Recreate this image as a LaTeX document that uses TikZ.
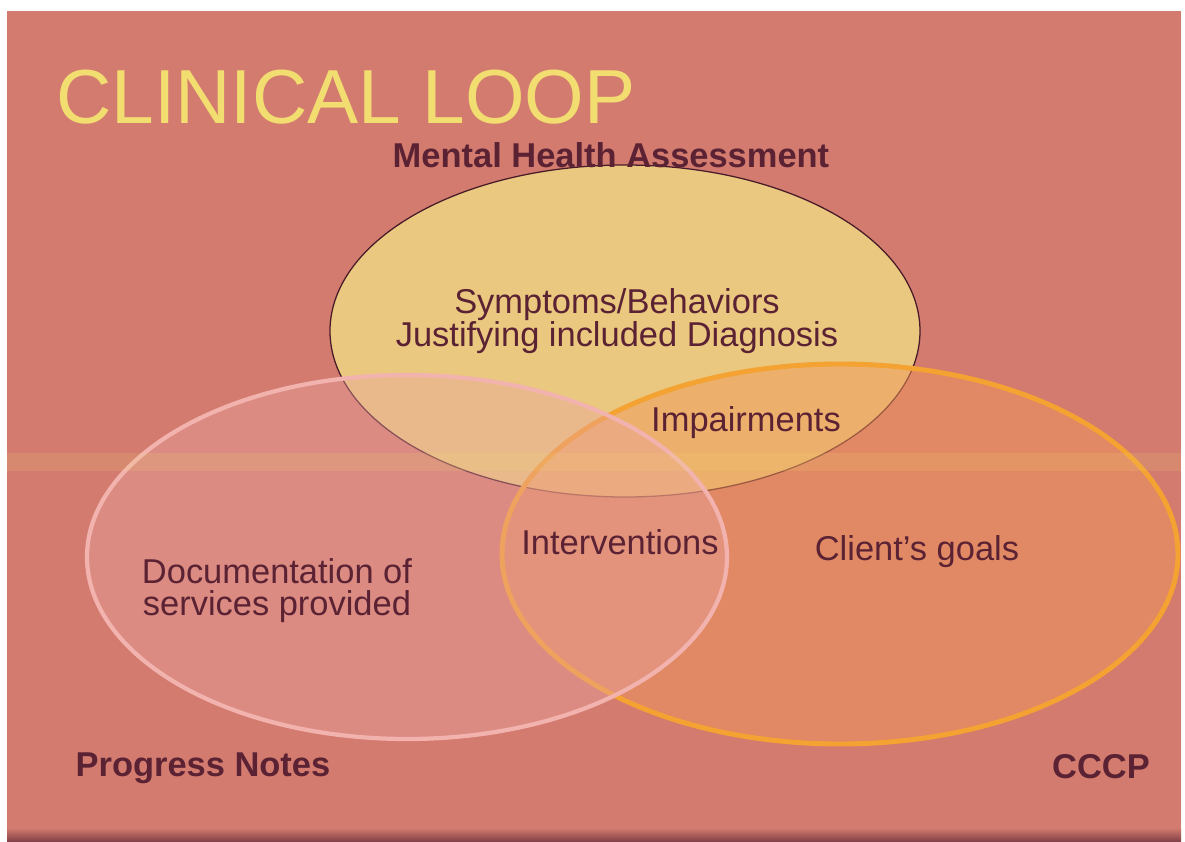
\documentclass[tikz,border=0pt]{standalone}
\usepackage{fontspec}
\setmainfont{Liberation Sans}
\usepackage{tikz}
\usepackage{xcolor}
\usetikzlibrary{positioning,shapes.geometric}
\definecolor{Salmon}{HTML}{D37B6F}
\definecolor{Maroon}{HTML}{5A2233}
\definecolor{Straw}{HTML}{F2DD70}
\definecolor{Wheat}{HTML}{EAC87F}
\definecolor{Blush}{HTML}{F2B3AE}
\definecolor{BlushFill}{HTML}{E8A3A0}
\definecolor{Tangerine}{HTML}{F4A232}
\definecolor{TangerineFill}{HTML}{F0985A}
\tikzset{
    every node/.style={font=\fontsize{24.5}{24}\selectfont, text=Maroon, inner sep=0pt},
    loopcircle/.style={line width=#1},
    looplabel/.style={align=center},
    cornerlabel/.style={font=\fontsize{24.5}{24}\selectfont\bfseries, text=Maroon},
}

\begin{document}
\begin{tikzpicture}[x=0.025cm, y=-0.025cm]
    \useasboundingbox (0,0) rectangle (1185,842);

    % Background
    \fill[white] (0,0) rectangle (1185,842);
    \fill[Salmon] (7,11) rectangle (1181,842);
    \shade[top color=Salmon, bottom color=Maroon!70!Salmon] (7,828) rectangle (1181,842);

    % Circles
    \draw[loopcircle=0.9pt, draw=Maroon!80!black, fill=Wheat] (625,331) ellipse [x radius=295, y radius=166];
    \fill[TangerineFill, opacity=0.5] (840,554) ellipse [x radius=338, y radius=190];
    \draw[loopcircle=3.5pt, draw=Tangerine] (840,554) ellipse [x radius=338, y radius=190];
    \fill[BlushFill, opacity=0.4] (407,557) ellipse [x radius=320, y radius=182];
    \draw[loopcircle=3pt, draw=Blush] (407,557) ellipse [x radius=320, y radius=182];

    % Scan band
    \fill[Straw, opacity=0.15] (7,453) rectangle (1181,471);

    % Title
    \node[font=\fontsize{54.5}{60}\selectfont, text=Straw] (title) at (346,97) {CLINICAL LOOP};

    % Circle labels
    \node[looplabel] (symptoms) at (617,321) {Symptoms/Behaviors\\Justifying included Diagnosis};
    \node[looplabel] (impair) at (746,423) {Impairments};
    \node[looplabel] (interv) at (620,542) {Interventions};
    \node[looplabel] (goals) at (917,552) {Client's goals};
    \node[looplabel, font=\fontsize{24.5}{22.8}\selectfont] (docs) at (277,591) {Documentation of\\services provided};

    % Corner labels
    \node[cornerlabel] (mha) at (611,155) {Mental Health Assessment};
    \node[cornerlabel] (progress) at (203,768) {Progress Notes};
    \node[cornerlabel] (cccp) at (1101,767) {CCCP};
\end{tikzpicture}
\end{document}
